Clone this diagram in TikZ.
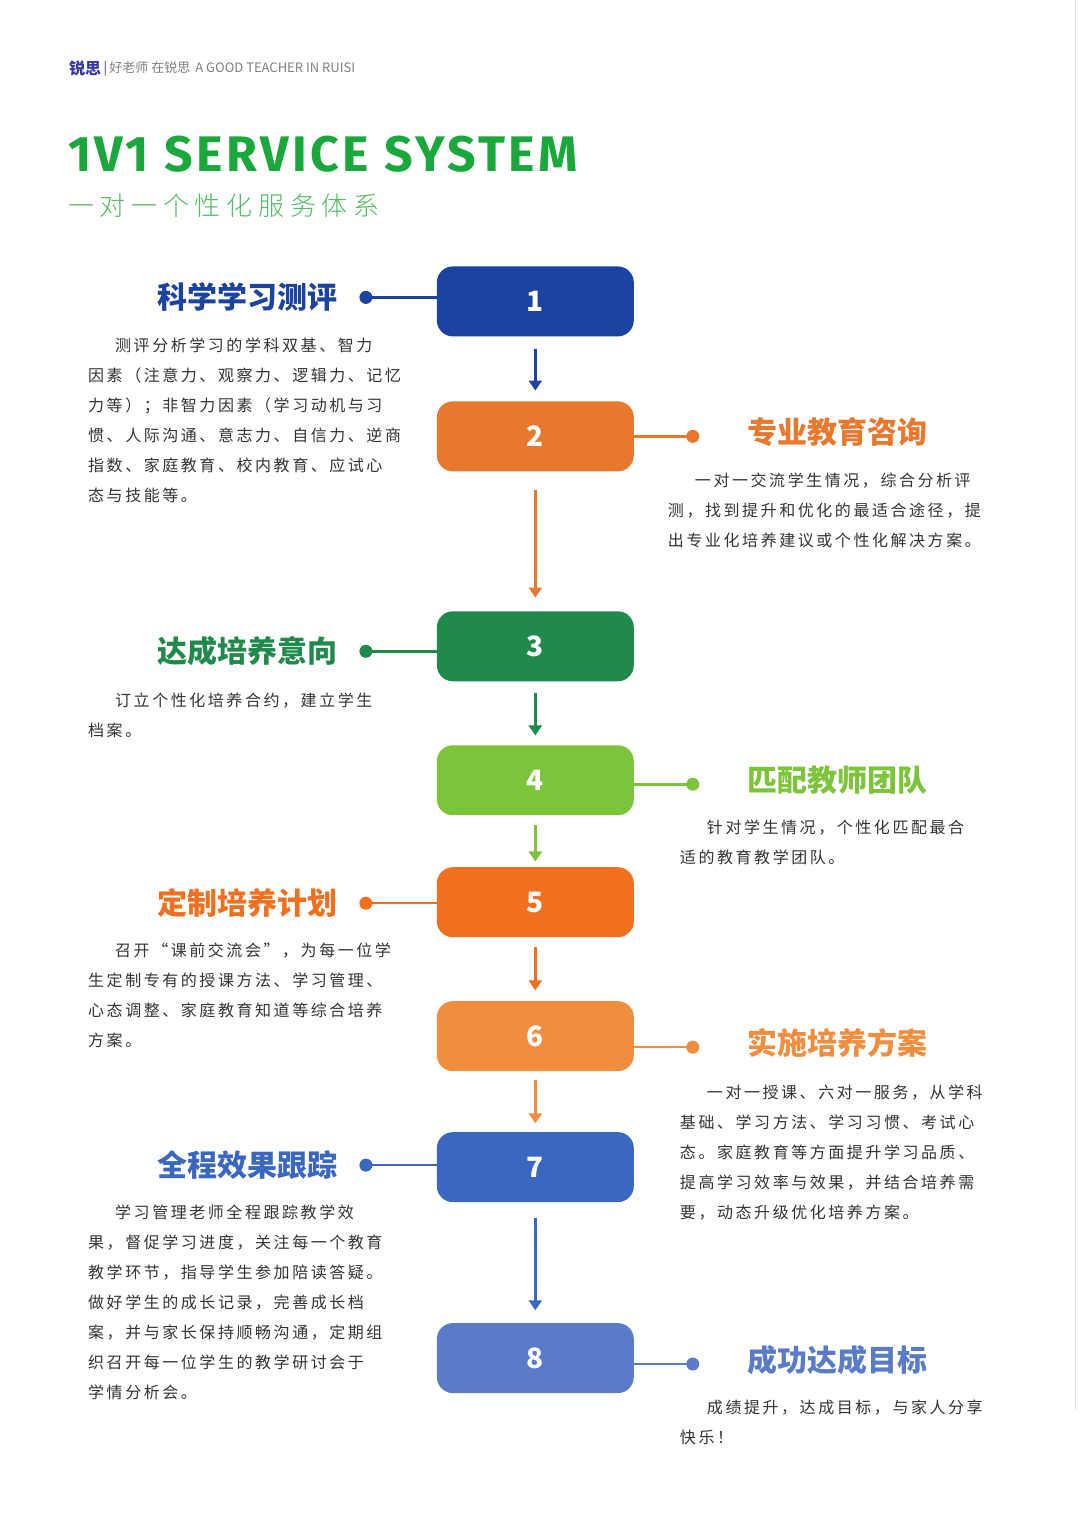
\documentclass[tikz,border=0pt]{standalone}
\usepackage{fontspec}
\setmainfont{Noto Sans CJK SC}
\newfontfamily\cjkbody[LetterSpace=16]{Noto Sans CJK SC}
\newfontfamily\cjksub[LetterSpace=22]{Noto Sans CJK SC Light}
\newfontfamily\titlefont[LetterSpace=7]{Fira Sans}
\usetikzlibrary{arrows.meta}
\definecolor{c1}{HTML}{1A44A0}
\definecolor{c2}{HTML}{E8782E}
\definecolor{c3}{HTML}{1F8A4C}
\definecolor{c4}{HTML}{7CC43A}
\definecolor{c5}{HTML}{F07020}
\definecolor{c6}{HTML}{F08D3E}
\definecolor{c7}{HTML}{3A68C0}
\definecolor{c8}{HTML}{5A7CC8}
\definecolor{bodygray}{HTML}{333333}
\definecolor{green1}{HTML}{1AA83C}
\definecolor{green2}{HTML}{55BB66}
\definecolor{logo}{HTML}{3A3AA0}
\tikzset{
 numbox/.style={rounded corners=16pt, minimum width=197pt, minimum height=70pt, inner sep=0, text=white, font=\bfseries\fontsize{28}{30}\selectfont},
 ttl/.style={font=\bfseries\fontsize{30}{32}\selectfont, inner sep=0},
 body/.style={font=\cjkbody\fontsize{16}{30}\selectfont, text=bodygray, align=left, anchor=north west, inner sep=0},
 dotc/.style={circle, inner sep=0, minimum size=13pt},
 conn/.style={line width=2.5pt},
 arr/.style={line width=2.6pt, -{Triangle[length=10pt,width=13pt]}},
}
\begin{document}
\begin{tikzpicture}[x=1pt,y=-1pt]
\fill[white] (0,0) rectangle (1080,1536);
\draw[gray!25, line width=1pt] (1076,0) -- (1076,1410);
% header
\node[anchor=west, inner sep=0, text=logo, font=\bfseries\fontsize{16}{16}\selectfont] (logo) at (69,68) {锐思};
\node[anchor=west, inner sep=0, text=gray, font=\fontsize{13}{13}\selectfont] (tag) at (logo.east) {\,\textcolor{logo}{|}\,好老师 在锐思\, A GOOD TEACHER IN RUISI};
\node[anchor=west, inner sep=0, text=green1, font=\titlefont\bfseries\fontsize{50}{50}\selectfont] (title) at (68,154) {1V1 SERVICE SYSTEM};
\node[anchor=west, inner sep=0, text=green2, font=\cjksub\fontsize{26}{26}\selectfont] (sub) at (68,205) {一对一个性化服务体系};
% boxes
\foreach \n/\y in {1/301,2/436,3/646,4/780,5/902,6/1036,7/1167,8/1358}
  \node[numbox, fill=c\n] (b\n) at (535.5,\y) {\n};
% arrows
\draw[arr, c1] (b1.south) ++(0,12) -- ++(0,42);
\draw[arr, c2] (b2.south) ++(0,18) -- ++(0,108);
\draw[arr, c3] (b3.south) ++(0,12) -- ++(0,42);
\draw[arr, c4] (b4.south) ++(0,10) -- ++(0,36);
\draw[arr, c5] (b5.south) ++(0,10) -- ++(0,43);
\draw[arr, c6] (b6.south) ++(0,9) -- ++(0,43);
\draw[arr, c7] (b7.south) ++(0,16) -- ++(0,92);
% left side
\foreach \n/\y/\t in {1/297/科学学习测评,3/651/达成培养意向,5/903/定制培养计划,7/1165/全程效果跟踪}{
  \node[ttl, text=c\n] (t\n) at (248,\y) {\t};
  \node[dotc, fill=c\n] (d\n) at (366,\y) {};
  \draw[conn, c\n] (d\n.center) -- (b\n.west |- d\n.center);
}
% right side
\foreach \n/\y/\t in {2/432/专业教育咨询,4/780/匹配教师团队,6/1043/实施培养方案,8/1360/成功达成目标}{
  \node[ttl, text=c\n] (t\n) at (838,\y) {\t};
  \node[dotc, fill=c\n] (d\n) at (693,{\y+4}) {};
  \draw[conn, c\n] (d\n.center) -- (b\n.east |- d\n.center);
}
% body texts
\node[body] (x1) at (88,337) {\hspace*{27pt}测评分析学习的学科双基、智力\\因素（注意力、观察力、逻辑力、记忆\\力等）；非智力因素（学习动机与习\\惯、人际沟通、意志力、自信力、逆商\\指数、家庭教育、校内教育、应试心\\态与技能等。};
\node[body] (x2) at (668,472) {\hspace*{27pt}一对一交流学生情况，综合分析评\\测，找到提升和优化的最适合途径，提\\出专业化培养建议或个性化解决方案。};
\node[body] (x3) at (88,692) {\hspace*{27pt}订立个性化培养合约，建立学生\\档案。};
\node[body] (x4) at (680,819) {\hspace*{27pt}针对学生情况，个性化匹配最合\\适的教育教学团队。};
\node[body] (x5) at (88,943) {\hspace*{27pt}召开“课前交流会”，为每一位学\\生定制专有的授课方法、学习管理、\\心态调整、家庭教育知道等综合培养\\方案。};
\node[body] (x6) at (680,1085) {\hspace*{27pt}一对一授课、六对一服务，从学科\\基础、学习方法、学习习惯、考试心\\态。家庭教育等方面提升学习品质、\\提高学习效率与效果，并结合培养需\\要，动态升级优化培养方案。};
\node[body] (x7) at (88,1205) {\hspace*{27pt}学习管理老师全程跟踪教学效\\果，督促学习进度，关注每一个教育\\教学环节，指导学生参加陪读答疑。\\做好学生的成长记录，完善成长档\\案，并与家长保持顺畅沟通，定期组\\织召开每一位学生的教学研讨会于\\学情分析会。};
\node[body] (x8) at (680,1400) {\hspace*{27pt}成绩提升，达成目标，与家人分享\\快乐！};
\end{tikzpicture}
\end{document}
